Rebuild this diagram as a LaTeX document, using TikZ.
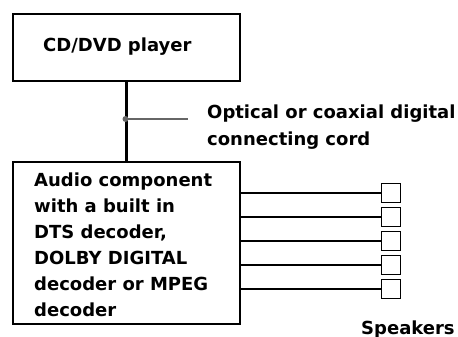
\documentclass[tikz,border=0pt]{standalone}
\usepackage{fontspec}
\setmainfont{DejaVu Sans}
\begin{document}
\begin{tikzpicture}[x=1pt,y=-1pt,
  box/.style={draw, line width=1.8pt, inner sep=0pt, anchor=north west},
  txt/.style={font=\fontsize{18}{22}\selectfont\bfseries, inner sep=0pt, anchor=base west},
  spk/.style={draw, line width=1.5pt, minimum size=19pt, inner sep=0pt},
  wire/.style={line width=2.2pt},
  cord/.style={line width=2.6pt}]
\useasboundingbox (0,0) rectangle (458,337);
\node[box, minimum width=227pt, minimum height=67pt] (player) at (12,13) {};
\node[txt] (ptext) at (43,52) {CD/DVD player};
\node[box, minimum width=227pt, minimum height=162pt] (audio) at (12,161) {};
\foreach \t [count=\k from 0] in {Audio component,with a built in,{DTS decoder,},DOLBY DIGITAL,decoder or MPEG,decoder} {
  \node[txt] (al\k) at (34,186+26*\k) {\t};
}
\draw[cord] (player.south) -- (audio.north);
\coordinate (dot) at (125.5,119);
\coordinate (cordend) at (188,119);
\draw[gray!80!black, line width=1.5pt] (dot) -- (cordend);
\fill[gray!80!black] (dot) circle (3pt);
\node[txt] (c1) at (207,118) {Optical or coaxial digital};
\node[txt] (c2) at (207,145) {connecting cord};
\foreach \i in {0,...,4} {
  \node[spk] (s\i) at (391,193+24*\i) {};
  \coordinate (a\i) at (239,193+24*\i);
  \draw[wire] (a\i) -- (s\i.west);
}
\node[txt] (spklabel) at (361,334) {Speakers};
\end{tikzpicture}
\end{document}
